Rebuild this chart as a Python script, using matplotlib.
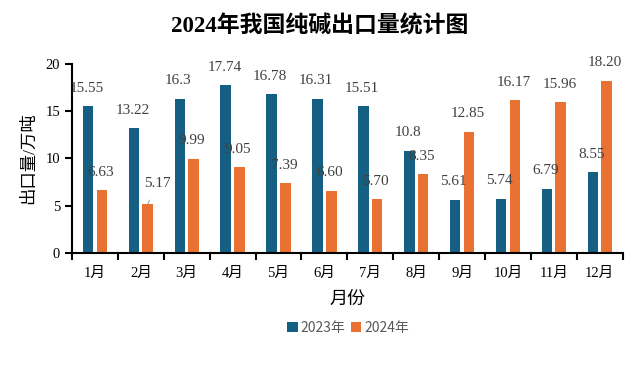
import numpy as np
import matplotlib
matplotlib.use("Agg")
import matplotlib.pyplot as plt

plt.rcParams['font.family'] = ['Liberation Serif', 'Noto Sans CJK SC']

months = ['1月', '2月', '3月', '4月', '5月', '6月', '7月', '8月', '9月', '10月', '11月', '12月']
export_2023 = [15.55, 13.22, 16.3, 17.74, 16.78, 16.31, 15.51, 10.8, 5.61, 5.74, 6.79, 8.55]
export_2024 = [6.63, 5.17, 9.99, 9.05, 7.39, 6.60, 5.70, 8.35, 12.85, 16.17, 15.96, 18.20]
labels_2023 = ['15.55', '13.22', '16.3', '17.74', '16.78', '16.31', '15.51', '10.8', '5.61', '5.74', '6.79', '8.55']
labels_2024 = ['6.63', '5.17', '9.99', '9.05', '7.39', '6.60', '5.70', '8.35', '12.85', '16.17', '15.96', '18.20']

c_2023 = '#156082'
c_2024 = '#E97132'
label_grey = '#404040'

fig = plt.figure(figsize=(6.4, 3.66), dpi=100)
ax = fig.add_axes([0.1125, 0.309, 0.8605, 0.516])

x = np.arange(len(months))
w = 0.23
ax.bar(x - 0.15, export_2023, w, color=c_2023, label='2023年')
ax.bar(x + 0.15, export_2024, w, color=c_2024, label='2024年')

for i in range(len(months)):
    ax.annotate(labels_2023[i], (x[i] - 0.15, export_2023[i]), xytext=(-1, 13),
                textcoords='offset points', ha='center', va='center',
                fontsize=11, color=label_grey)
    if i == 1:
        # this one sits off to the side with a small leader line
        ax.annotate(labels_2024[i], (x[i] + 0.15, export_2024[i]), xytext=(7, 15),
                    textcoords='offset points', ha='center', va='center',
                    fontsize=11, color=label_grey,
                    arrowprops=dict(arrowstyle='-', color='#a6a6a6', lw=0.8,
                                    shrinkA=6, shrinkB=0))
    else:
        ax.annotate(labels_2024[i], (x[i] + 0.15, export_2024[i]), xytext=(-1, 13),
                    textcoords='offset points', ha='center', va='center',
                    fontsize=11, color=label_grey)

ax.set_xlim(-0.5, len(months) - 0.5)
ax.set_ylim(0, 20)
ax.set_yticks([0, 5, 10, 15, 20])
ax.set_xticks(x)
ax.set_xticklabels(months, fontsize=10.5)
ax.tick_params(axis='x', length=0, pad=10)
ax.set_xticks(np.arange(-0.5, len(months)), minor=True)
ax.tick_params(axis='x', which='minor', length=5, width=1.5, direction='out')
ax.tick_params(axis='y', length=5, width=1.5, direction='out', labelsize=10.5)

for side in ['top', 'right']:
    ax.spines[side].set_visible(False)
for side in ['left', 'bottom']:
    ax.spines[side].set_linewidth(1.5)

ax.set_xlabel('月份', fontsize=13, labelpad=8)
ax.set_ylabel('出口量/万吨', fontsize=12.5, labelpad=6)

fig.text(0.5, 0.929, '2024年我国纯碱出口量统计图', ha='center', va='center',
         fontsize=16.5, fontweight='bold')

fig.legend(loc='center', bbox_to_anchor=(0.544, 0.105), ncol=2, frameon=False,
           handlelength=0.75, handleheight=0.75, handletextpad=0.2,
           columnspacing=0.4, labelcolor='#595959',
           prop={'family': ['Noto Sans CJK SC'], 'size': 10})

fig.savefig('out.png', dpi=100)
